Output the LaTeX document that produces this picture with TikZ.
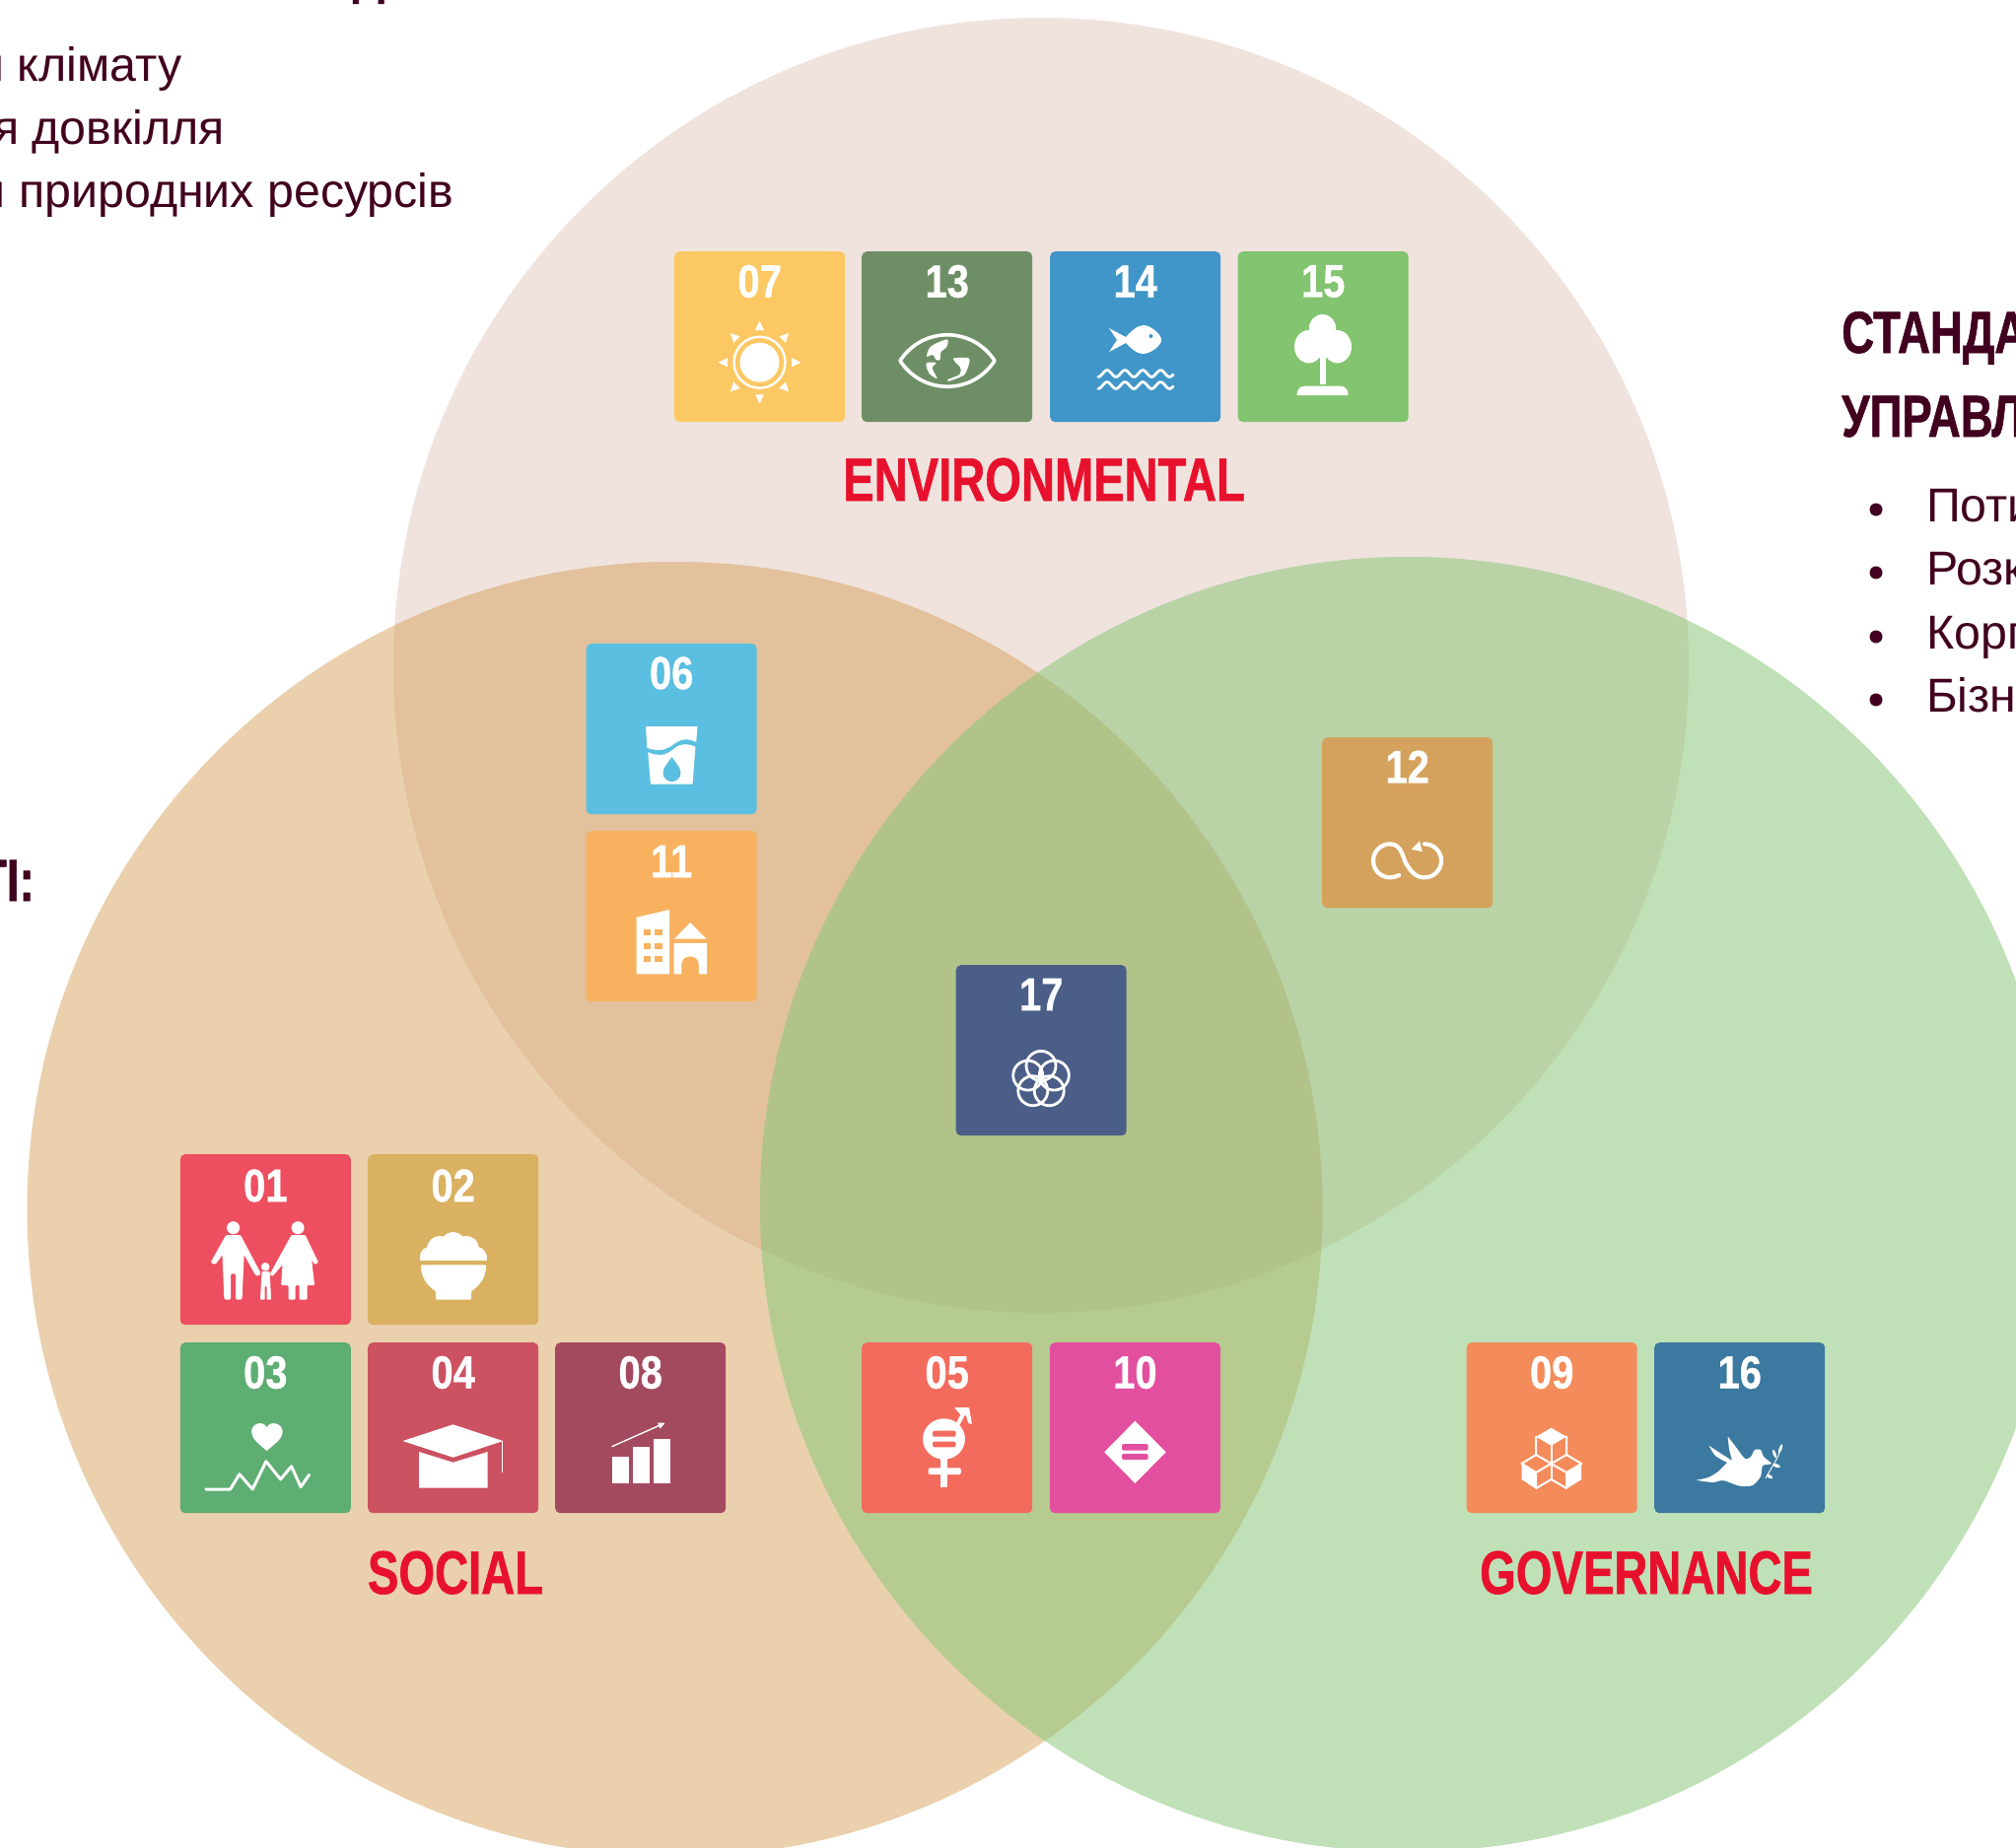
\documentclass[tikz,border=0pt]{standalone}
\usepackage{fontspec}
\setmainfont{Liberation Sans}
\newfontfamily\condf[FakeStretch=0.76,BoldFeatures={FakeBold=0.9}]{Liberation Sans}
\newfontfamily\headf[FakeStretch=0.76,BoldFeatures={FakeBold=0.9}]{Liberation Sans}
\newfontfamily\numf[FakeStretch=0.85,BoldFeatures={FakeBold=0.7}]{Liberation Sans}
\usetikzlibrary{arrows.meta}
\definecolor{dark}{HTML}{41001F}
\definecolor{redt}{HTML}{E8112D}
\definecolor{ctop}{HTML}{F0E3DE}
\definecolor{cleft}{HTML}{EAD0AD}
\definecolor{cright}{HTML}{C0E0B7}
\definecolor{ctl}{HTML}{E2C19C}
\definecolor{ctr}{HTML}{B9D3A7}
\definecolor{clr}{HTML}{B6CB90}
\definecolor{call}{HTML}{B1C388}
\definecolor{c01}{HTML}{EE4F60}
\definecolor{c02}{HTML}{D9B161}
\definecolor{c03}{HTML}{5EAD73}
\definecolor{c04}{HTML}{CC5161}
\definecolor{c05}{HTML}{F36B5D}
\definecolor{c06}{HTML}{5ABFE0}
\definecolor{c07}{HTML}{FCC864}
\definecolor{c08}{HTML}{A44A60}
\definecolor{c09}{HTML}{F48B5A}
\definecolor{c10}{HTML}{E34F9F}
\definecolor{c11}{HTML}{F8B15F}
\definecolor{c12}{HTML}{D5A25D}
\definecolor{c13}{HTML}{6E8F65}
\definecolor{c14}{HTML}{4096C8}
\definecolor{c15}{HTML}{82C46F}
\definecolor{c16}{HTML}{3B79A0}
\definecolor{c17}{HTML}{4B5E87}
\tikzset{
  tile/.style={rectangle,rounded corners=5pt,minimum width=173pt,minimum height=173pt,inner sep=0pt,anchor=north west,draw=none},
  num/.style={inner sep=0pt,text=white,font=\numf\bfseries\fontsize{47}{47}\selectfont},
  pillar/.style={inner sep=0pt,text=redt,font=\condf\bfseries\fontsize{62}{62}\selectfont},
  headt/.style={inner sep=0pt,text=dark,anchor=base west,font=\headf\bfseries\fontsize{60}{60}\selectfont},
  bodyt/.style={inner sep=0pt,text=dark,font=\fontsize{48.3}{48.3}\selectfont},
  wline/.style={draw=white,fill=none,line cap=round,line join=round},
}
\newcommand{\sdgtile}[5][30.5]{%
  \node[tile,fill=c#2] (t#2) at (#3,#4) {};
  \node[num] (n#2) at ([yshift=-#1pt]t#2.north) {#2};
  \begin{scope}[shift={(#3,#4)}]\colorlet{tc}{c#2}#5\end{scope}}
\newcommand{\iconsun}{%
  \fill[white] (86.5,112.7) circle[radius=20pt];
  \draw[white,line width=2.4pt] (86.5,112.7) circle[radius=26pt];
  \foreach \a in {0,45,...,315}{\fill[white,rotate around={\a:(86.5,112.7)}] (86.5,70.7) -- (91,80) -- (82,80) -- cycle;}}
\newcommand{\iconeye}{%
  \begin{scope}[shift={(87,111)}]
  \draw[wline,line width=3.6pt] (-48,0) .. controls (-25,-35) and (25,-35) .. (48,0) .. controls (25,35) and (-25,35) .. (-48,0) -- cycle;
  \fill[white] plot[smooth cycle,tension=.5] coordinates {(-3.5,-21)(0.5,-21)(-0.5,-14.3)(-6.5,-8.7)(-7.5,-1)(-11.4,-1)(-15,-6)(-21,-4.3)(-17,-14.3)};
  \fill[white] plot[smooth cycle,tension=.4] coordinates {(-21,2)(-11.4,2)(-15.4,7.3)(-10.4,18)(-17.4,14)(-21,7.3)};
  \fill[white] plot[smooth cycle,tension=.4] coordinates {(6.5,-2.7)(22.4,-2)(17.4,14)(1.5,20.7)(0.5,19)(12.4,14)(13.4,7.3)(7.5,0.7)};
  \end{scope}}
\newcommand{\iconfish}{%
  \fill[white] (60,78) -- (77,87) .. controls (82,82) and (88,75) .. (95,75) .. controls (102,75) and (113,84) .. (113,90) .. controls (113,96) and (102,104) .. (94,104) .. controls (88,104) and (82,98) .. (77,93) -- (60,102) -- (68,90) -- cycle;
  \fill[tc] (102.5,86) circle[radius=2pt];
  \draw[white,line width=2.8pt,line cap=round] plot[domain=0:76,samples=70,smooth] ({\x+49},{124+3.4*cos(\x*19.9)});
  \draw[white,line width=2.8pt,line cap=round] plot[domain=0:76,samples=70,smooth] ({\x+49},{136+3.4*cos(\x*19.9)});}
\newcommand{\icontree}{%
  \fill[white] (86,78) ellipse[x radius=13.7pt,y radius=14pt];
  \fill[white] (72,96.7) ellipse[x radius=14.5pt,y radius=16.7pt];
  \fill[white] (101,96.7) ellipse[x radius=14.5pt,y radius=16.7pt];
  \fill[white] (78,80) rectangle (95,108);
  \fill[white] (83.5,100) rectangle (89,135);
  \fill[white] (60,146) .. controls (60,140) and (63,136.7) .. (68,136.7) -- (104,136.7) .. controls (109,136.7) and (112,140) .. (112,146) -- cycle;}
\newcommand{\iconfamily}{%
  \fill[white] (54,74.7) circle[radius=6.5pt];
  \fill[white] (119.5,74.7) circle[radius=6.5pt];
  \fill[white] (86.6,114.3) circle[radius=4.3pt];
  \fill[white,rounded corners=1.2pt] (46.6,82) -- (61.4,82) -- (82,121) -- (79,124) -- (76,122) -- (65,102) -- (63,147.5) -- (56.6,147.5) -- (56.6,121.3) -- (51.4,121.3) -- (51.4,147.5) -- (44.8,147.5) -- (43,102) -- (36,112) -- (31,110) -- cycle;
  \fill[white,rounded corners=1pt] (113,82) -- (127,82) -- (140.5,110) -- (136.5,112) -- (133.5,107) -- (136.5,133) -- (129,133) -- (129,147.5) -- (121,147.5) -- (121,133) -- (117,133) -- (117,147.5) -- (110,147.5) -- (110,133) -- (102.5,133) -- (104,112) -- (94,124) -- (91,122) -- cycle;
  \fill[white,rounded corners=.8pt] (83,119) -- (91,119) -- (92.5,147.5) -- (88,147.5) -- (88,134) -- (86,134) -- (86,147.5) -- (81.4,147.5) -- cycle;}
\newcommand{\iconbowl}{%
  \fill[white] (63,104) circle[radius=10pt];
  \fill[white] (73,96) circle[radius=13pt];
  \fill[white] (86.6,92) circle[radius=13pt];
  \fill[white] (100,96) circle[radius=13pt];
  \fill[white] (110.5,104) circle[radius=10pt];
  \fill[white] (53,102) rectangle (120.7,108);
  \fill[white] (63,94) rectangle (110,108);
  \fill[tc] (48,108) rectangle (126,116);
  \fill[white,rounded corners=1pt] (54,112.3) .. controls (54,125) and (60,133) .. (69,139) -- (69,147.7) -- (105,147.7) -- (105,139) .. controls (114,133) and (120,125) .. (120,112.3) -- cycle;}
\newcommand{\iconheart}{%
  \fill[white] (88,110) .. controls (80,103) and (72.5,98) .. (72.5,90.5) .. controls (72.5,82) and (84,79) .. (88,86) .. controls (92,79) and (104,82) .. (104,90.5) .. controls (104,98) and (96,103) .. (88,110) -- cycle;
  \draw[wline,line width=3pt] (26.3,149) -- (51,149) -- (60.3,133.7) -- (73.6,149) -- (87.3,120.7) -- (102,139) -- (113,125.7) -- (122.5,146.7) -- (131,134.3);}
\newcommand{\iconcap}{%
  \fill[white] (35.5,100) -- (86.6,83.3) -- (137.3,100) -- (86.6,116.7) -- cycle;
  \fill[white] (52,111) -- (86.6,121.7) -- (121.7,111) -- (121.7,147.7) -- (52,147.7) -- cycle;
  \draw[white,line width=1.5pt] (136.5,100) -- (136.5,132.3);}
\newcommand{\iconchart}{%
  \fill[white] (57.7,116.3) rectangle (74.7,143.3);
  \fill[white] (78.8,106.3) rectangle (95.8,143.3);
  \fill[white] (99.9,98.3) rectangle (117,143.3);
  \draw[white,line width=1.4pt,-{Triangle[length=7pt,width=6pt]}] (57.7,105.7) -- (111.7,81.7);}
\newcommand{\iconglass}{%
  \fill[white] (60.5,84) -- (113,84) -- (111.7,100) .. controls (104,96) and (98,96.5) .. (92,100) .. controls (86,104) and (82,108) .. (74,108) .. controls (69,108) and (65,107) .. (62,105.7) -- cycle;
  \fill[white] (62.8,110) .. controls (66,112) and (70,112.8) .. (75,112.8) .. controls (83,112.8) and (87,108) .. (93,104) .. controls (98,101.5) and (104,101.5) .. (111,104.7) -- (108,142.6) -- (65.4,142.6) -- cycle;
  \fill[tc] (87,115) .. controls (90,120) and (96,125.5) .. (96,131) .. controls (96,136) and (92,140) .. (87,140) .. controls (82,140) and (78,136) .. (78,131) .. controls (78,125.5) and (84,120) .. (87,115) -- cycle;}
\newcommand{\iconcity}{%
  \fill[white] (51,87.8) -- (84.6,79.9) -- (84.6,145.3) -- (51,145.3) -- cycle;
  \foreach \yy in {100,113.8,127.4}{\fill[tc] (58.2,\yy) rectangle (65.8,\yy+5.8);\fill[tc] (69.7,\yy) rectangle (77.3,\yy+5.8);}
  \fill[white] (89.6,109.6) -- (105.6,93) -- (122,109.6) -- cycle;
  \fill[white] (89.2,113.8) -- (122.5,113.8) -- (122.5,145.3) -- (114.4,145.3) -- (114.4,135.5) .. controls (114.4,130) and (110,127.4) .. (105.6,127.4) .. controls (101,127.4) and (96.8,130) .. (96.8,135.5) -- (96.8,145.3) -- (89.2,145.3) -- cycle;}
\newcommand{\iconflower}{%
  \foreach \a in {90,162,234,306,18}{\draw[white,line width=2.8pt] ({86.5+14*cos(\a)},{116.4-14*sin(\a)}) circle[radius=15pt];}}
\newcommand{\iconloop}{%
  \draw[wline,line width=4.2pt] (78,140) .. controls (74,142) and (71,142.3) .. (69,142.3) .. controls (59.6,142.3) and (52,134.7) .. (52,125.3) .. controls (52,115.9) and (59.6,108.3) .. (69,108.3) .. controls (82,108.3) and (82,125) .. (86.5,130) .. controls (90,136) and (95,142.3) .. (104,142.3) .. controls (113.4,142.3) and (121,134.7) .. (121,125.3) .. controls (121,115.9) and (113.4,108.3) .. (104,108.3);
  \fill[white] (99,105.3) -- (90.7,113.7) -- (101.7,116) -- cycle;}
\newcommand{\icongender}{%
  \fill[white] (83.5,98) ellipse[x radius=21.4pt,y radius=20.7pt];
  \fill[tc,rounded corners=2pt] (72,89.7) rectangle (95.7,95.7);
  \fill[tc,rounded corners=2pt] (72,100.7) rectangle (95.7,106.3);
  \fill[white] (80,115) rectangle (86.7,147.3);
  \fill[white,rounded corners=2pt] (67.6,127.3) rectangle (100.8,134);
  \draw[white,line width=4pt] (96,86) -- (104.5,70);
  \fill[white,rounded corners=.8pt] (94,66) -- (109,66) -- (112,83) -- (108,82) -- (106,74) -- (100,73) -- cycle;}
\newcommand{\icondiamond}{%
  \fill[white] (86.7,79.7) -- (118,111.3) -- (86.7,143) -- (55.5,111.3) -- cycle;
  \fill[tc,rounded corners=2pt] (73.3,103) rectangle (100,109.7);
  \fill[tc,rounded corners=2pt] (73.3,113) rectangle (100,119);}
\newcommand{\iconcubes}{%
  \fill[white] (86,86.7) -- (101.5,95.7) -- (86,104.7) -- (70.7,95.7) -- cycle;
  \draw[wline,line width=2pt] (70.7,95.7) -- (70.7,114) -- (86,123) -- (101.5,114) -- (101.5,95.7);
  \draw[wline,line width=2pt] (86,104.7) -- (86,123);
  \draw[wline,line width=2pt] (70.7,114) -- (56,123) -- (70.7,132) -- (86,123) -- (101.5,132) -- (116.7,123) -- (101.5,114);
  \draw[wline,line width=2pt] (70.7,132) -- (70.7,148) -- (86,139) -- (101.5,148) -- (101.5,132);
  \draw[wline,line width=2pt] (86,123) -- (86,139);
  \fill[white] (56,123) -- (70.7,132) -- (70.7,148.7) -- (56,139) -- cycle;
  \fill[white] (116.7,123) -- (101.5,132) -- (101.5,148.7) -- (116.7,139) -- cycle;}
\newcommand{\icondove}{%
  \fill[white] plot[smooth,tension=.4] coordinates {(42.7,139.7)(55,137)(65,131)(74,122)} -- plot[smooth,tension=.4] coordinates {(74,122)(62,115)(55.5,104.7)} -- plot[smooth,tension=.4] coordinates {(55.5,104.7)(68,113)(79,120)} -- plot[smooth,tension=.4] coordinates {(79,120)(76,108)(74.6,95.3)} -- plot[smooth,tension=.4] coordinates {(74.6,95.3)(82,105)(92,118)(98,116)(102,109)(108,109)(111,116)(119,123)(110,125)(108,136)(100,145)(90,146)(84,145)(70,140)(60,142)(50,141)(42.7,139.7)} -- cycle;
  \draw[white,line width=.9pt] (113,138) .. controls (118,128) and (126,118) .. (129,106);
  \fill[white,rotate around={70:(128,108)}] (128,108) ellipse[x radius=5pt,y radius=1.5pt];
  \fill[white,rotate around={110:(122,113)}] (122,113) ellipse[x radius=4.5pt,y radius=1.5pt];
  \fill[white,rotate around={-20:(124,125)}] (124,125) ellipse[x radius=4pt,y radius=1.8pt];
  \fill[white,rotate around={-30:(117,136)}] (117,136) ellipse[x radius=3.5pt,y radius=1.7pt];}
\def\ct{(1056,675) circle[radius=657pt]}
\def\cl{(684.5,1227) circle[radius=657pt]}
\def\cri{(1428,1222) circle[radius=657pt]}
\begin{document}
\begin{tikzpicture}[x=1pt,y=-1pt]
\useasboundingbox (0,0) rectangle (2045,1874);
\clip (0,0) rectangle (2045,1874);
\fill[white] (0,0) rectangle (2045,1874);
\fill[ctop] \ct;
\fill[cleft] \cl;
\fill[cright] \cri;
\begin{scope}\clip \ct; \fill[ctl] \cl; \fill[ctr] \cri; \end{scope}
\begin{scope}\clip \cl; \fill[clr] \cri; \end{scope}
\begin{scope}\clip \ct; \clip \cl; \fill[call] \cri; \end{scope}
% top-left cropped texts
\node[headt,anchor=base] (hd) at (374,-8) {Д};
\node[bodyt,anchor=base east] (b1) at (184.5,82.5) {и клімату};
\node[bodyt,anchor=base east] (b2) at (228,146.5) {я довкілля};
\node[bodyt,anchor=base east] (b3) at (460.5,210.5) {и природних ресурсів};
\node[headt,anchor=base east] (hl) at (35,914) {ТІ:};
% right texts
\node[headt] (h1) at (1868,358) {СТАНДА};
\node[headt] (h2) at (1868,443) {УПРАВЛ};
\foreach \n/\yy/\tx in {1/529/Поти,2/593/Розк,3/658/Корп,4/722/Бізн}{
  \fill[dark] (1903,\yy-12) circle[radius=6.5pt];
  \node[bodyt,anchor=base west] (r\n) at (1954,\yy) {\tx};
}
% tiles
\sdgtile{07}{684}{255}{\iconsun}
\sdgtile{13}{874}{255}{\iconeye}
\sdgtile{14}{1065}{255}{\iconfish}
\sdgtile{15}{1255.5}{255}{\icontree}
\sdgtile[30]{06}{594.5}{653}{\iconglass}
\sdgtile[31]{11}{594.5}{843}{\iconcity}
\sdgtile[30]{12}{1341}{748}{\iconloop}
\sdgtile[30]{17}{969.5}{979}{\iconflower}
\sdgtile[32]{01}{182.6}{1171}{\iconfamily}
\sdgtile[32]{02}{373}{1171}{\iconbowl}
\sdgtile[30.5]{03}{182.6}{1362}{\iconheart}
\sdgtile[30.5]{04}{373}{1362}{\iconcap}
\sdgtile[30.5]{08}{563}{1362}{\iconchart}
\sdgtile[30.5]{05}{874}{1362}{\icongender}
\sdgtile[30.5]{10}{1064.7}{1362}{\icondiamond}
\sdgtile[30.5]{09}{1487.5}{1362}{\iconcubes}
\sdgtile[30.5]{16}{1678}{1362}{\icondove}
% pillar labels
\node[pillar,anchor=base] (env) at (1059,508) {ENVIRONMENTAL};
\node[pillar,anchor=base] (soc) at (462,1617) {SOCIAL};
\node[pillar,anchor=base] (gov) at (1670,1617) {GOVERNANCE};
\end{tikzpicture}
\end{document}
